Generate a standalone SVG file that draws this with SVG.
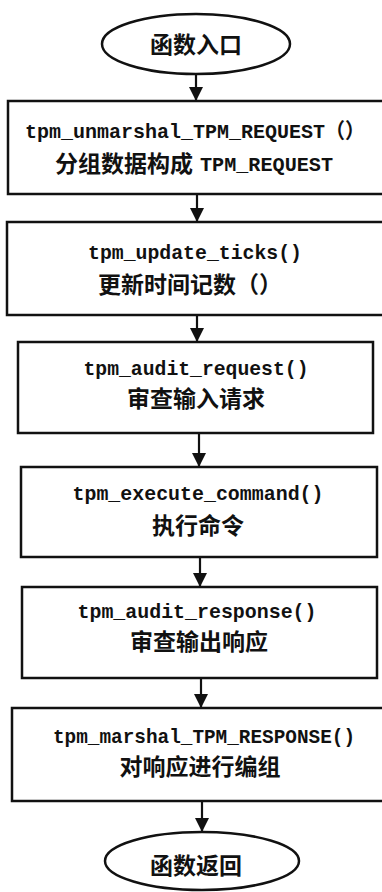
<svg xmlns="http://www.w3.org/2000/svg" width="382" height="892" viewBox="0 0 382 892">
<style>
.shape{fill:#fff;stroke:#111;stroke-width:2.5}
.mono{font-family:"Liberation Mono","Noto Sans CJK SC",monospace;font-size:21px;font-weight:bold;fill:#111;text-anchor:middle}
.cjk{font-family:"Noto Sans CJK SC","Liberation Sans",sans-serif;font-size:23px;font-weight:bold;fill:#111;text-anchor:middle}
.start{text-anchor:start}
.conn{stroke:#111;stroke-width:2.2;fill:none;marker-end:url(#ah)}
</style>
<defs>
<marker id="ah" markerWidth="14" markerHeight="14" viewBox="0 0 14 14" refX="14" refY="7" orient="auto" markerUnits="userSpaceOnUse">
<path d="M0,0 L14,7 L0,14 Z" fill="#111"/>
</marker>
</defs>
<rect width="382" height="892" fill="#fff"/>
<g id="connectors">
<line class="conn" x1="196" y1="74" x2="196" y2="101"/>
<line class="conn" x1="197" y1="194" x2="197" y2="222"/>
<line class="conn" x1="197" y1="315" x2="197" y2="342"/>
<line class="conn" x1="199" y1="433" x2="199" y2="467"/>
<line class="conn" x1="200" y1="557" x2="200" y2="587"/>
<line class="conn" x1="201" y1="678" x2="201" y2="708"/>
<line class="conn" x1="202" y1="801" x2="202" y2="832"/>
</g>
<g id="start">
<ellipse class="shape" cx="196" cy="44" rx="94" ry="30"/>
<text class="cjk" x="196" y="53">函数入口</text>
</g>
<g id="n1">
<rect class="shape" x="8" y="101" width="378" height="93"/>
<text class="mono" x="195" y="138" textLength="340" lengthAdjust="spacingAndGlyphs">tpm_unmarshal_TPM_REQUEST（）</text>
<text class="cjk start" x="55" y="172">分组数据构成</text>
<text class="mono start" x="200" y="171" textLength="133" lengthAdjust="spacingAndGlyphs">TPM_REQUEST</text>
</g>
<g id="n2">
<rect class="shape" x="7" y="222" width="379" height="93"/>
<text class="mono" x="195" y="259" textLength="214" lengthAdjust="spacingAndGlyphs">tpm_update_ticks()</text>
<text class="cjk" x="190" y="293">更新时间记数（）</text>
</g>
<g id="n3">
<rect class="shape" x="18" y="342" width="355" height="91"/>
<text class="mono" x="196" y="375" textLength="225" lengthAdjust="spacingAndGlyphs">tpm_audit_request()</text>
<text class="cjk" x="196" y="407">审查输入请求</text>
</g>
<g id="n4">
<rect class="shape" x="21" y="467" width="356" height="90"/>
<text class="mono" x="198" y="500" textLength="251" lengthAdjust="spacingAndGlyphs">tpm_execute_command()</text>
<text class="cjk" x="198" y="534">执行命令</text>
</g>
<g id="n5">
<rect class="shape" x="22" y="587" width="355" height="91"/>
<text class="mono" x="197" y="618" textLength="239" lengthAdjust="spacingAndGlyphs">tpm_audit_response()</text>
<text class="cjk" x="199" y="650">审查输出响应</text>
</g>
<g id="n6">
<rect class="shape" x="12" y="708" width="374" height="93"/>
<text class="mono" x="204" y="743" textLength="302" lengthAdjust="spacingAndGlyphs">tpm_marshal_TPM_RESPONSE()</text>
<text class="cjk" x="200" y="775">对响应进行编组</text>
</g>
<g id="end">
<ellipse class="shape" cx="202" cy="861" rx="97" ry="29"/>
<text class="cjk" x="196" y="874">函数返回</text>
</g>
</svg>
